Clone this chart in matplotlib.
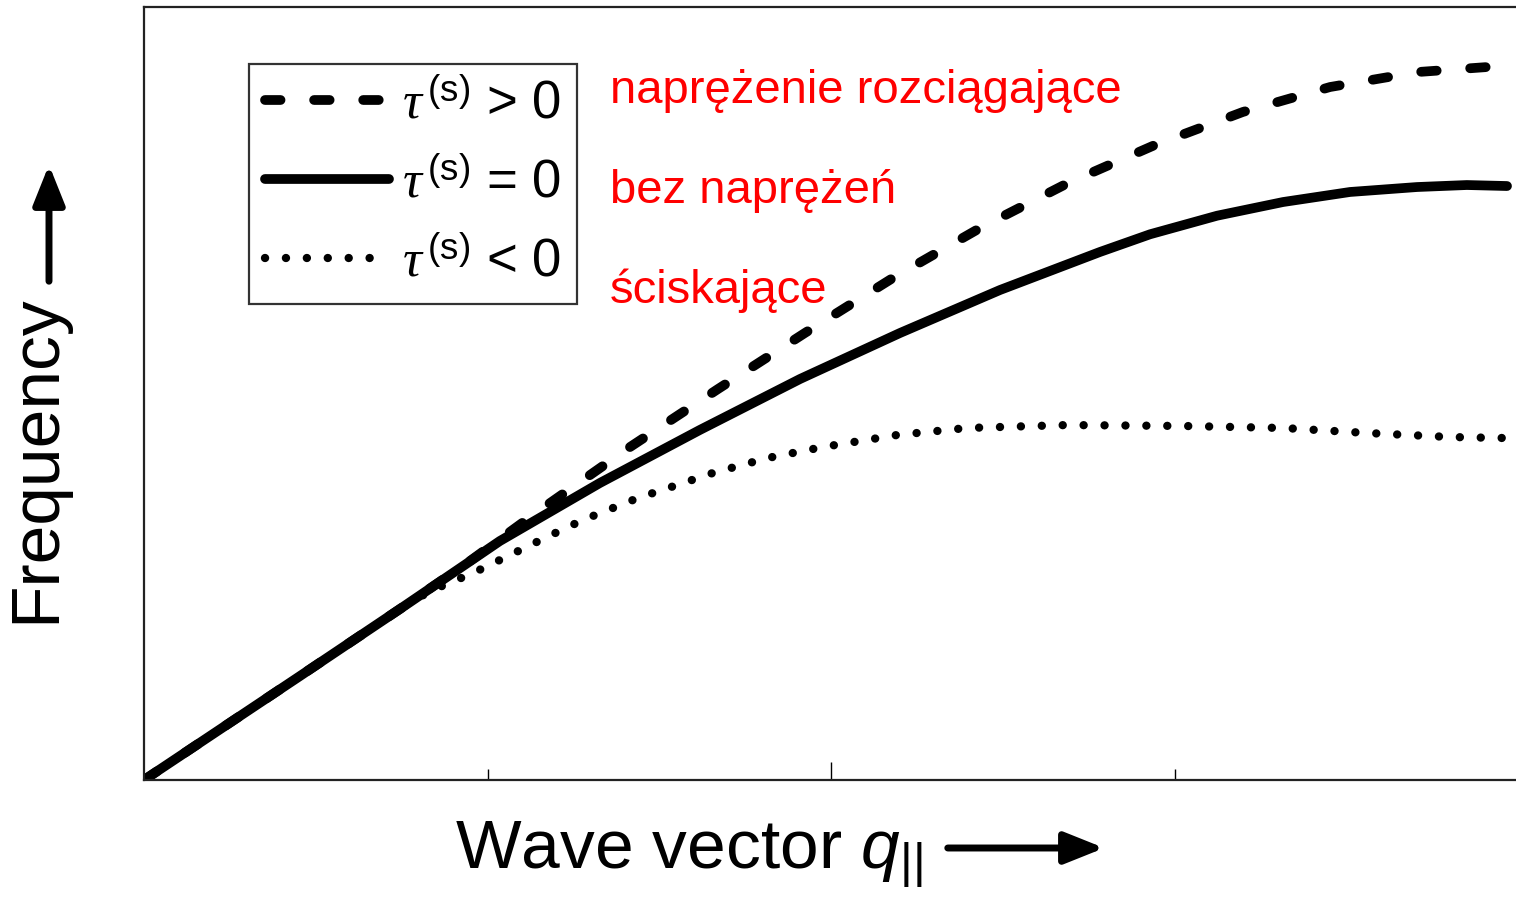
import matplotlib
matplotlib.use("Agg")
import matplotlib.pyplot as plt

plt.rcParams['font.family'] = ['Liberation Sans', 'DejaVu Sans']
plt.rcParams['mathtext.fontset'] = 'custom'
plt.rcParams['mathtext.it'] = 'Liberation Serif:italic'
plt.rcParams['mathtext.rm'] = 'Liberation Sans'
plt.rcParams['mathtext.sf'] = 'Liberation Sans:italic'

# ---- data (wave vector q, frequency) ----
x_zero = [0.0, 0.454, 0.745, 1.036, 1.327, 1.618, 1.910, 2.201, 2.492, 2.783, 2.929,
          3.124, 3.316, 3.511, 3.706, 3.851, 3.968]
y_zero = [0.0, 0.1345, 0.2212, 0.3092, 0.3842, 0.4528, 0.5188, 0.5783, 0.6339, 0.6831, 0.7060,
          0.7300, 0.7477, 0.7607, 0.7671, 0.7697, 0.7684]

x_tens = [0.0, 0.454, 0.745, 0.949, 1.153, 1.415, 1.671, 1.924, 2.180, 2.434, 2.690,
          2.943, 3.199, 3.453, 3.709, 3.953]
y_tens = [0.0, 0.1345, 0.2212, 0.2833, 0.3493, 0.4308, 0.5058, 0.5783, 0.6494, 0.7141, 0.7723,
          0.8215, 0.8642, 0.8965, 0.9159, 0.9237]

x_comp = [0.0, 0.454, 0.745, 0.833, 0.958, 1.066, 1.173, 1.278, 1.438, 1.552, 1.656, 1.816,
          1.977, 2.192, 2.396, 2.687, 3.025, 3.316, 3.561, 3.802, 3.962]
y_comp = [0.0, 0.1345, 0.2212, 0.2445, 0.2678, 0.2911, 0.3144, 0.3364, 0.3648, 0.3816, 0.3972,
          0.4166, 0.4308, 0.4463, 0.4554, 0.4592, 0.4580, 0.4554, 0.4489, 0.4437, 0.4424]

labels = [r'$\tau^{\,\mathrm{(s)}}$ > 0', r'$\tau^{\,\mathrm{(s)}}$ = 0', r'$\tau^{\,\mathrm{(s)}}$ < 0']
notes = ['naprężenie rozciągające', 'bez naprężeń', 'ściskające']
major_ticks = [2]
minor_ticks = [1, 3]

W, H = 1516, 897
fig = plt.figure(figsize=(W / 100, H / 100), dpi=100)
ax = fig.add_axes([144 / W, (H - 780) / H, 1374 / W, 773 / H])
ax.set_xlim(0, 4)
ax.set_ylim(0, 1)

LW = 7.0
l_tens, = ax.plot(x_tens, y_tens, color='black', lw=LW, linestyle=(0, (1.6, 3.45)),
                  dash_capstyle='round', solid_capstyle='round')
l_zero, = ax.plot(x_zero, y_zero, color='black', lw=LW, solid_capstyle='round')
l_comp, = ax.plot(x_comp, y_comp, color='black', lw=6.0, linestyle=(0, (0.01, 2.5)),
                  dash_capstyle='round')

for s in ['left', 'bottom', 'top']:
    ax.spines[s].set_linewidth(1.6)
    ax.spines[s].set_color('#222222')
ax.spines['right'].set_visible(False)

ax.set_xticks(major_ticks)
ax.set_xticks(minor_ticks, minor=True)
ax.set_yticks([])
ax.tick_params(axis='x', which='major', direction='in', length=13, width=1.0, labelbottom=False)
ax.tick_params(axis='x', which='minor', direction='in', length=8, width=1.0, labelbottom=False)

leg = ax.legend([l_tens, l_zero, l_comp], labels, loc='upper left',
                bbox_to_anchor=((249 - 144) / 1374, (780 - 64) / 773),
                borderaxespad=0, fontsize=38, frameon=True, fancybox=False,
                edgecolor='black', handlelength=2.35, handletextpad=0.25,
                labelspacing=0.55, borderpad=0.3)
leg.get_frame().set_linewidth(1.6)

for i, t in enumerate(notes):
    ax.text((610 - 144) / 1374, (780 - 103 - 100 * i) / 773, t, color='#ff0000',
            fontsize=34, ha='left', va='baseline', transform=ax.transAxes)

fig.text(455 / W, (H - 868) / H, r'Wave vector $\mathsf{q}_{\mathrm{||}}$', fontsize=50,
         ha='left', va='baseline')
fig.text(68 / W, (H - 623) / H, 'Frequency', fontsize=50, rotation=90,
         ha='right', va='bottom')

fig.add_artist(matplotlib.patches.FancyArrowPatch(
    (945 / W, (H - 848) / H), (1107 / W, (H - 848) / H), transform=fig.transFigure,
    arrowstyle='-|>,head_length=1.5,head_width=0.6', mutation_scale=16, lw=5,
    color='black', capstyle='round'))
fig.add_artist(matplotlib.patches.FancyArrowPatch(
    (49 / W, (H - 284) / H), (49 / W, (H - 162) / H), transform=fig.transFigure,
    arrowstyle='-|>,head_length=1.5,head_width=0.6', mutation_scale=16, lw=5,
    color='black', capstyle='round'))

fig.savefig('out.png', dpi=100)
